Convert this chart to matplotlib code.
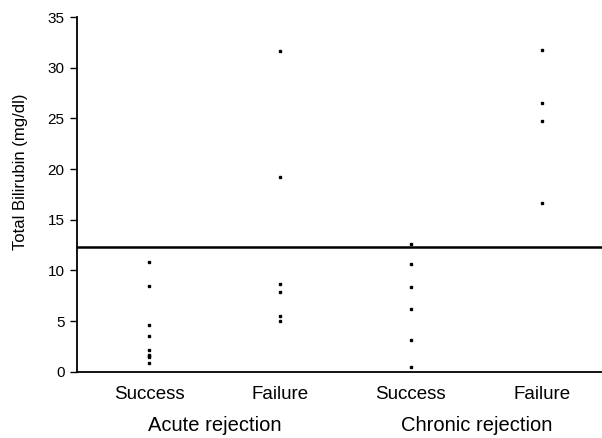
import matplotlib
matplotlib.use('Agg')
import matplotlib.pyplot as plt

plt.rcParams['font.family'] = ['Liberation Sans', 'DejaVu Sans']

# 数据
groups = ['Success', 'Failure', 'Success', 'Failure']
group_pos = [1, 2, 3, 4]
acute_success = [10.8, 8.5, 4.6, 3.5, 2.2, 1.7, 1.5, 1.6, 0.9]
acute_failure = [31.7, 19.2, 8.7, 7.9, 5.5, 5.0]
chronic_success = [12.6, 10.6, 8.4, 6.2, 3.1, 0.5]
chronic_failure = [31.8, 26.5, 24.7, 16.7]
cutoff = 12.3
yticks = [0, 5, 10, 15, 20, 25, 30, 35]

values = [acute_success, acute_failure, chronic_success, chronic_failure]

fig = plt.figure(figsize=(6.02, 4.38), dpi=100)
ax = fig.add_axes([0.128, 0.151, 0.872, 0.81])

for pos, vals in zip(group_pos, values):
    ax.plot([pos] * len(vals), vals, 's', color='black', markersize=2.0, linestyle='none')

ax.axhline(cutoff, color='black', linewidth=1.8)

ax.set_xlim(0.45, 4.46)
ax.set_ylim(0, 35)
ax.set_yticks(yticks)
ax.set_xticks(group_pos)
ax.set_xticklabels(groups, fontsize=13.5)
ax.tick_params(axis='x', length=0, pad=10)
ax.tick_params(axis='y', labelsize=11, length=5, width=1, direction='out', pad=4)
ax.spines['top'].set_visible(False)
ax.spines['right'].set_visible(False)
ax.spines['left'].set_linewidth(1.3)
ax.spines['bottom'].set_linewidth(1.3)
ax.set_ylabel('Total Bilirubin (mg/dl)', fontsize=12)
ax.yaxis.set_label_coords(-0.093, 0.563)

# 分组标签
ax.text(1.5, -0.125, 'Acute rejection', transform=ax.get_xaxis_transform(),
        ha='center', va='top', fontsize=14.5)
ax.text(3.5, -0.125, 'Chronic rejection', transform=ax.get_xaxis_transform(),
        ha='center', va='top', fontsize=14.5)

plt.savefig('out.png', dpi=100)
